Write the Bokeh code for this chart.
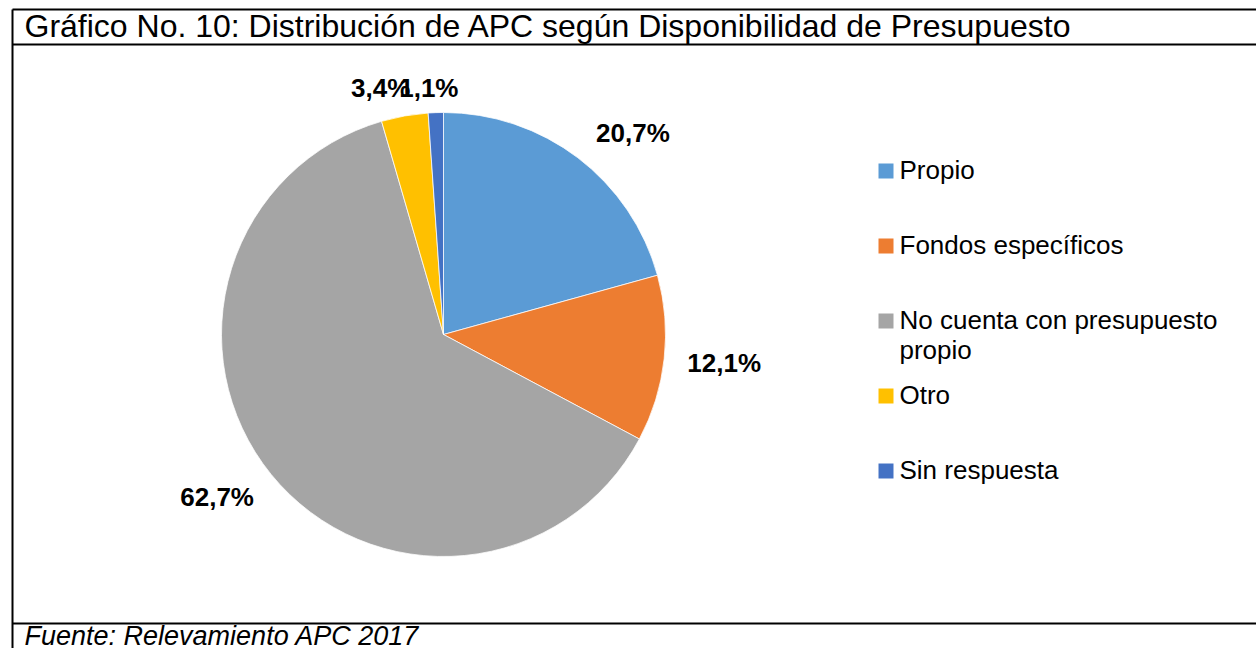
import math
from bokeh.plotting import figure
from bokeh.models import Range1d, ColumnDataSource
from bokeh.core.properties import value
from bokeh.embed import file_html
from bokeh.resources import INLINE

# ---------------- data ----------------
title_text = "Gráfico No. 10: Distribución de APC según Disponibilidad de Presupuesto"
source_text = "Fuente: Relevamiento APC 2017"
categories = ["Propio", "Fondos específicos", "No cuenta con presupuesto propio", "Otro", "Sin respuesta"]
legend_labels = ["Propio", "Fondos específicos", "No cuenta con presupuesto\npropio", "Otro", "Sin respuesta"]
shares = [20.7, 12.1, 62.7, 3.4, 1.1]

# ---------------- style / layout ----------------
colors = ["#5b9bd5", "#ed7d31", "#a5a5a5", "#ffc000", "#4472c4"]
FONT = value("Liberation Sans")
W, H = 1256, 648


def dy(page_y):
    """page pixel row -> data y (1 data unit == 1 px)"""
    return H - page_y


def base(page_y, size):
    """data y for a wanted alphabetic baseline (corrects renderer's baseline drop)"""
    return dy(page_y - 0.4 * size)


CX, CY, R = 443, dy(334), 222
# screen-pixel nudges of each value label (baseline) from the slice's outer arc midpoint
label_nudge = [(55, -25), (60, 4), (-54, 23), (-24, -28), (-7, -25)]

p = figure(width=W, height=H, x_range=Range1d(0, W), y_range=Range1d(0, H),
           x_axis_type=None, y_axis_type=None, output_backend="svg", toolbar_location=None,
           min_border=0, outline_line_color=None, background_fill_color="white",
           border_fill_color="white")
p.grid.visible = False

# ---------------- pie ----------------
total = sum(shares)
f0, f1 = [], []
acc = 0.0
for v in shares:
    f0.append(acc / total)
    acc += v
    f1.append(acc / total)
start = [math.pi / 2 - 2 * math.pi * a for a in f0]
end = [math.pi / 2 - 2 * math.pi * b for b in f1]

src = ColumnDataSource(dict(cat=categories, share=shares, color=colors, start=start, end=end))
p.wedge(x=CX, y=CY, radius=R, start_angle="start", end_angle="end", direction="clock",
        fill_color="color", line_color="white", line_width=0.75, source=src)

# value labels
mid = [(a + b) / 2 for a, b in zip(f0, f1)]
lx = [CX + R * math.sin(2 * math.pi * m) for m in mid]
ly = [CY + R * math.cos(2 * math.pi * m) for m in mid]
ltxt = [("%.1f%%" % v).replace(".", ",") for v in shares]
lsrc = ColumnDataSource(dict(x=lx, y=ly, t=ltxt,
                             xo=[n[0] for n in label_nudge], yo=[n[1] for n in label_nudge]))
p.text(x="x", y="y", text="t", x_offset="xo", y_offset="yo", source=lsrc,
       text_font=FONT, text_font_size="26px", text_font_style="bold", text_color="black",
       text_align="center", text_baseline="alphabetic")

# ---------------- legend (drawn manually) ----------------
leg_page_y = [170.5 + 75 * i for i in range(len(categories))]
p.scatter(x=[885.5] * len(categories), y=[dy(v) for v in leg_page_y], marker="square", size=15,
          fill_color=colors, line_color=None)
tx, ty, tt = [], [], []
for lab, cy in zip(legend_labels, leg_page_y):
    for k, line in enumerate(lab.split("\n")):
        tx.append(899)
        ty.append(base(cy + 9 + 30 * k, 26))
        tt.append(line)
p.text(x=tx, y=ty, text=tt, text_font=FONT, text_font_size="26px", text_color="black",
       text_align="left", text_baseline="alphabetic")

# ---------------- frame, title, source ----------------
p.segment(x0=[12, 12, 12, 12], y0=[dy(9), dy(44), dy(623), dy(9)],
          x1=[W, W, W, 12], y1=[dy(9), dy(44), dy(623), dy(648)],
          line_color="black", line_width=2)
p.text(x=[24], y=[base(38, 32)], text=[title_text], text_font=FONT, text_font_size="32px",
       text_color="black", text_align="left", text_baseline="alphabetic")
p.text(x=[24], y=[base(646, 27)], text=[source_text], text_font=FONT, text_font_size="27px",
       text_font_style="italic", text_color="black", text_align="left", text_baseline="alphabetic")

open("out.html", "w").write(file_html(p, INLINE))
